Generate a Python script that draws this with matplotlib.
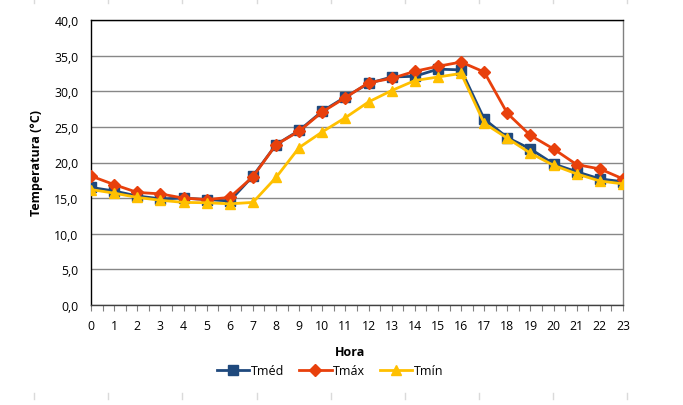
import matplotlib
matplotlib.use("Agg")
import matplotlib.pyplot as plt
from matplotlib.lines import Line2D
from matplotlib.ticker import MultipleLocator, FixedLocator

plt.rcParams['font.family'] = ['Open Sans', 'DejaVu Sans']

horas = list(range(24))
tick_labels = [str(h) for h in horas]
tmed = [16.5, 16.0, 15.3, 14.9, 15.0, 14.8, 14.6, 18.1, 22.5, 24.5, 27.2, 29.2,
        31.1, 32.0, 32.1, 33.1, 33.0, 26.1, 23.5, 21.9, 19.8, 18.7, 17.7, 17.3]
tmax = [18.1, 16.9, 15.8, 15.6, 15.0, 14.8, 15.1, 18.0, 22.5, 24.4, 27.1, 29.1,
        31.2, 31.8, 32.8, 33.5, 34.1, 32.7, 26.9, 23.8, 21.9, 19.7, 19.1, 17.7]
tmin = [16.2, 15.7, 15.1, 14.7, 14.4, 14.35, 14.2, 14.4, 17.9, 22.1, 24.3, 26.3,
        28.5, 30.1, 31.5, 32.0, 32.5, 25.5, 23.4, 21.3, 19.6, 18.4, 17.4, 17.0]
y_ticks = [0, 5, 10, 15, 20, 25, 30, 35, 40]

c_med = '#1F497D'
c_max = '#E8400C'
c_min = '#FFC000'

W, H = 683, 406
fig = plt.figure(figsize=(W / 100, H / 100), dpi=100)
ax = fig.add_axes([91 / W, 1 - 306 / H, (623 - 91) / W, (306 - 21) / H])

ax.plot(horas, tmed, color=c_med, lw=2.0, marker='s', ms=6.5, label='Tméd', zorder=3)
ax.plot(horas, tmax, color=c_max, lw=2.0, marker='D', ms=6, label='Tmáx', zorder=4)
ax.plot(horas, tmin, color=c_min, lw=2.0, marker='^', ms=7.5, label='Tmín', zorder=5)

ax.set_xlim(0, 23)
ax.set_ylim(0, 40)
ax.yaxis.set_major_locator(FixedLocator(y_ticks))
ax.set_yticklabels([f"{v:.1f}".replace('.', ',') for v in y_ticks])
ax.set_xticks(horas)
ax.set_xticklabels(tick_labels)
ax.xaxis.set_minor_locator(MultipleLocator(0.5))
ax.grid(axis='y', color='#878787', lw=1.0)
ax.set_axisbelow(True)

ax.tick_params(axis='y', length=0, labelsize=8.8, pad=9, colors='#000000')
ax.tick_params(axis='x', which='major', length=4, width=0.8, color='#808080', labelsize=8.8, pad=6)
ax.tick_params(axis='x', which='minor', length=4, width=0.8, color='#808080')

ax.spines['top'].set_color('#000000')
ax.spines['left'].set_color('#000000')
ax.spines['bottom'].set_color('#404040')
ax.spines['right'].set_color('#808080')
for s in ax.spines.values():
    s.set_linewidth(1.0)

ax.set_ylabel('Temperatura (°C)', fontsize=9, fontweight='bold', labelpad=8)
fig.text(350 / W, 1 - 352 / H, 'Hora', fontsize=9, fontweight='bold', ha='center', va='center')

leg = fig.legend(loc='center', bbox_to_anchor=(330 / W, 1 - 372 / H), ncol=3, frameon=False,
                 fontsize=9, handlelength=2.6, columnspacing=1.2, handletextpad=0.1)

# faint spreadsheet grid remnants
for x in [34, 108, 182, 257, 331, 405, 479, 553, 627]:
    fig.add_artist(Line2D([x / W, x / W], [1, 1 - 4 / H], color='#DADADA', lw=1, transform=fig.transFigure))
    fig.add_artist(Line2D([x / W, x / W], [1 - 394 / H, 1 - 400 / H], color='#DADADA', lw=1, transform=fig.transFigure))

fig.savefig('out.png', dpi=100)
